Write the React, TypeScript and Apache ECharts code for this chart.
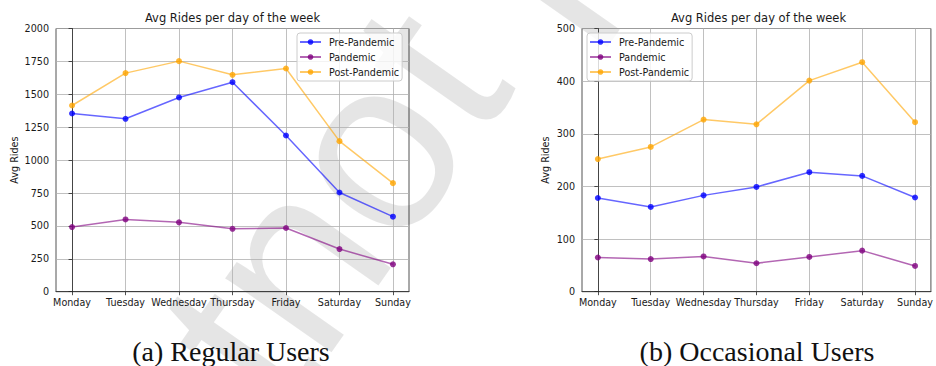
import { useEffect, useRef } from 'react';
import * as echarts from 'echarts';

// Weekday categories along both x axes
const DAYS = ['Monday', 'Tuesday', 'Wednesday', 'Thursday', 'Friday', 'Saturday', 'Sunday'];
const DAY_POSITIONS = [0, 1, 2, 3, 4, 5, 6];

// (a) Regular users: average rides per weekday
const regularPre = [1354, 1314, 1476, 1592, 1187, 754, 570];
const regularPandemic = [491, 549, 527, 478, 484, 324, 208];
const regularPost = [1415, 1661, 1752, 1648, 1696, 1144, 825];

// (b) Occasional users: average rides per weekday
const occasionalPre = [178, 161, 183, 199, 227, 220, 179];
const occasionalPandemic = [65, 62, 67, 54, 66, 78, 49];
const occasionalPost = [252, 275, 327, 318, 401, 436, 322];

// y-axis ranges and steps
const regularAxis = { max: 2000, step: 250 };
const occasionalAxis = { max: 500, step: 100 };

const SERIES_NAMES = ['Pre-Pandemic', 'Pandemic', 'Post-Pandemic'];
const TITLE = 'Avg Rides per day of the week';
const Y_NAME = 'Avg Rides';
const CAPTIONS = ['(a) Regular Users', '(b) Occasional Users'];
const WATERMARK = ['Preprint', 'not', 'peer reviewed'];

const FONT = "'DejaVu Sans', sans-serif";
const TEXT = '#1a1a1a';
const SPINE = '#262626';
const GRIDLINE = '#b0b0b0';

const LINE_COLORS = ['rgba(0,0,255,0.6)', 'rgba(128,0,128,0.6)', 'rgba(255,165,0,0.6)'];
const MARK_COLORS = ['rgba(0,0,255,0.8)', 'rgba(128,0,128,0.8)', 'rgba(255,165,0,0.8)'];

const PLOT_TOP = 28.5;
const PLOT_H = 263.2;
const PLOT_W = 353;
const PANEL_LEFT = [56, 582];

function pairs(values: number[]) {
  return values.map((v, i) => [DAY_POSITIONS[i], v]);
}

function xAxisFor(gridIndex: number) {
  return {
    gridIndex,
    type: 'value',
    min: -0.3,
    max: 6.3,
    axisLine: { show: true, onZero: false, lineStyle: { color: SPINE, width: 0.8 } },
    axisTick: { show: true, length: 3.5, customValues: DAY_POSITIONS, lineStyle: { color: SPINE, width: 0.8 } },
    axisLabel: {
      customValues: DAY_POSITIONS,
      formatter: (v: number) => DAYS[Math.round(v)] ?? '',
      fontSize: 9.6,
      fontFamily: FONT,
      color: TEXT,
      margin: 5.5,
    },
    splitLine: { show: true, lineStyle: { color: GRIDLINE, width: 0.8 } },
  };
}

function yAxisFor(gridIndex: number, axis: { max: number; step: number }, nameGap: number) {
  return {
    gridIndex,
    type: 'value',
    min: 0,
    max: axis.max,
    interval: axis.step,
    name: Y_NAME,
    nameLocation: 'middle',
    nameRotate: 90,
    nameGap,
    nameTextStyle: { fontSize: 9.6, fontFamily: FONT, color: TEXT },
    axisLine: { show: true, lineStyle: { color: SPINE, width: 0.8 } },
    axisTick: { show: true, length: 3.5, lineStyle: { color: SPINE, width: 0.8 } },
    axisLabel: { fontSize: 9.6, fontFamily: FONT, color: TEXT, margin: 7, formatter: (v: number) => String(v) },
    splitLine: { show: true, lineStyle: { color: GRIDLINE, width: 0.8 } },
  };
}

function linesFor(gridIndex: number, groups: number[][]) {
  return groups.map((values, k) => ({
    type: 'line',
    name: SERIES_NAMES[k],
    xAxisIndex: gridIndex,
    yAxisIndex: gridIndex,
    data: pairs(values),
    symbol: 'circle',
    symbolSize: 6,
    z: 2 + k,
    lineStyle: { color: LINE_COLORS[k], width: 1.5 },
    itemStyle: { color: MARK_COLORS[k], borderWidth: 0 },
    emphasis: { disabled: true },
  }));
}

function legendFor(left: number) {
  return {
    left,
    top: 33,
    orient: 'vertical',
    data: SERIES_NAMES,
    selectedMode: false,
    itemWidth: 21,
    itemHeight: 7,
    itemGap: 3,
    padding: [3, 3, 3, 2],
    backgroundColor: 'rgba(255,255,255,0.8)',
    borderColor: '#cccccc',
    borderWidth: 1,
    borderRadius: 3,
    textStyle: { fontSize: 9.6, fontFamily: FONT, color: TEXT, lineHeight: 12, padding: [0, 0, 0, 3] },
  };
}

function titleText(cx: number) {
  return {
    type: 'text',
    x: cx,
    y: 17.5,
    style: { text: TITLE, fontSize: 11.5, fontFamily: FONT, fill: TEXT, align: 'center', verticalAlign: 'middle' },
  };
}

function captionText(cx: number, text: string) {
  return {
    type: 'text',
    x: cx,
    y: 351,
    style: { text, fontSize: 28, fontFamily: "'Liberation Serif', serif", fill: '#111', align: 'center', verticalAlign: 'middle' },
  };
}

// Diagonal watermark laid across the sheet
const WM_SIZE = 245;
const WM_ROT = (55 * Math.PI) / 180;
function watermark() {
  const em = WM_SIZE;
  const half = 0.695 * em;
  const space = 0.278 * em;
  const style = {
    fontSize: WM_SIZE,
    fontFamily: "'Liberation Sans', sans-serif",
    fill: 'rgba(0,0,0,0.1)',
    verticalAlign: 'middle',
  };
  return {
    type: 'group',
    x: 350,
    y: 178,
    rotation: WM_ROT,
    z: 100,
    silent: true,
    children: [
      { type: 'text', x: -(half + space) + 70, y: 0, style: { ...style, text: WATERMARK[0], align: 'right' } },
      { type: 'text', x: 0, y: 0, style: { ...style, text: WATERMARK[1], align: 'center' } },
      { type: 'text', x: half + space, y: 0, style: { ...style, text: WATERMARK[2], align: 'left' } },
    ],
  };
}

export default function App() {
  const ref = useRef<HTMLDivElement>(null);

  useEffect(() => {
    if (!ref.current) return;
    const chart = echarts.init(ref.current, undefined, { renderer: 'svg' });
    const centers = PANEL_LEFT.map((l) => l + PLOT_W / 2);
    chart.setOption({
      animation: false,
      backgroundColor: '#ffffff',
      grid: PANEL_LEFT.map((left) => ({
        left,
        top: PLOT_TOP,
        width: PLOT_W,
        height: PLOT_H,
        show: true,
        borderColor: SPINE,
        borderWidth: 0.8,
        backgroundColor: 'transparent',
      })),
      xAxis: [xAxisFor(0), xAxisFor(1)],
      yAxis: [yAxisFor(0, regularAxis, 37), yAxisFor(1, occasionalAxis, 32)],
      legend: [legendFor(297), legendFor(587)],
      series: [
        ...linesFor(0, [regularPre, regularPandemic, regularPost]),
        ...linesFor(1, [occasionalPre, occasionalPandemic, occasionalPost]),
      ],
      graphic: [
        titleText(centers[0]),
        titleText(centers[1]),
        captionText(231, CAPTIONS[0]),
        captionText(757, CAPTIONS[1]),
        watermark(),
      ],
    });
    return () => chart.dispose();
  }, []);

  return <div ref={ref} style={{ position: 'fixed', left: 0, top: 0, width: 936, height: 366 }} />;
}
